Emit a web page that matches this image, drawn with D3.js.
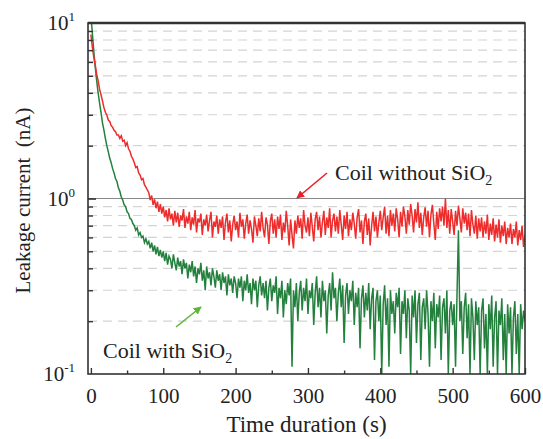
<!DOCTYPE html>
<html>
<head>
<meta charset="utf-8">
<script src="https://cdn.jsdelivr.net/npm/d3@7"></script>
<style>
  body { margin: 0; background: #fff; }
  svg text { font-family: "Liberation Serif", "Times New Roman", serif; fill: #222; }
</style>
</head>
<body>
<svg width="543" height="439" font-family="Liberation Serif, serif"></svg>
<script>
// sampling: one reading every 2 s from 0 to 600 s
var startTime = 0;
var timeStep = 2;

// Coil without SiO2 (nA)
var withoutSiO2 = [
  8.6, 7.3, 6.4, 5.8, 5.1, 4.7, 4.2, 3.9, 3.6, 3.3,
  3.1, 3.0, 2.8, 2.75, 2.6, 2.55, 2.45, 2.4, 2.3, 2.3,
  2.2, 2.28, 2.12, 2.15, 2.0, 2.08, 1.92, 1.86, 1.74, 1.68,
  1.6, 1.5, 1.52, 1.4, 1.36, 1.28, 1.3, 1.2, 1.16, 1.12,
  1.08, 0.98, 1.04, 0.92, 0.99, 0.88, 0.96, 0.84, 0.93, 0.82,
  0.9, 0.78, 0.86, 0.74, 0.88, 0.76, 0.82, 0.7, 0.85, 0.73,
  0.83, 0.69, 0.8, 0.75, 0.87, 0.68, 0.79, 0.72, 0.84, 0.66,
  0.78, 0.71, 0.86, 0.64, 0.77, 0.73, 0.82, 0.62, 0.76, 0.7,
  0.81, 0.65, 0.75, 0.84, 0.6, 0.74, 0.69, 0.8, 0.63, 0.76,
  0.68, 0.79, 0.58, 0.73, 0.82, 0.64, 0.75, 0.57, 0.71, 0.8,
  0.66, 0.74, 0.6, 0.83, 0.69, 0.76, 0.59, 0.72, 0.81, 0.63,
  0.75, 0.67, 0.56, 0.79, 0.7, 0.61, 0.77, 0.65, 0.84, 0.68,
  0.6, 0.78, 0.71, 0.55, 0.74, 0.82, 0.63, 0.76, 0.6, 0.79,
  0.67, 0.81, 0.58, 0.73, 0.64, 0.85, 0.7, 0.54, 0.76, 0.62,
  0.52, 0.75, 0.63, 0.8, 0.68, 0.77, 0.59, 0.86, 0.7, 0.64,
  0.78, 0.61, 0.83, 0.69, 0.57, 0.76, 0.84, 0.66, 0.79, 0.6,
  0.73, 0.85, 0.62, 0.78, 0.68, 0.88, 0.6, 0.75, 0.82, 0.65,
  0.79, 0.63, 0.86, 0.71, 0.58, 0.8, 0.67, 0.84, 0.61, 0.76,
  0.66, 0.83, 0.72, 0.59, 0.78, 0.87, 0.64, 0.75, 0.55, 0.74,
  0.82, 0.62, 0.77, 0.54, 0.7, 0.84, 0.65, 0.79, 0.6, 0.73,
  0.85, 0.66, 0.78, 0.9, 0.63, 0.8, 0.61, 0.86, 0.7, 0.82,
  0.65, 0.88, 0.76, 0.6, 0.84, 0.69, 0.9, 0.79, 0.63, 0.86,
  0.71, 0.93, 0.8, 0.64, 0.87, 0.73, 0.95, 0.68, 0.83, 0.62,
  0.78, 0.89, 0.69, 0.85, 0.6, 0.81, 0.92, 0.72, 0.58, 0.84,
  0.67, 0.88, 0.74, 0.9, 0.7, 1.0, 0.68, 0.86, 0.63, 0.87,
  0.74, 0.62, 0.85, 0.7, 0.91, 0.77, 0.64, 0.88, 0.72, 0.83,
  0.66, 0.82, 0.61, 0.86, 0.71, 0.63, 0.8, 0.59, 0.77, 0.65,
  0.78, 0.6, 0.74, 0.63, 0.81, 0.58, 0.72, 0.62, 0.77, 0.57,
  0.71, 0.6, 0.76, 0.56, 0.7, 0.61, 0.74, 0.55, 0.68, 0.6,
  0.72, 0.55, 0.67, 0.6, 0.74, 0.54, 0.66, 0.58, 0.7, 0.53,
  0.62
];

// Coil with SiO2 (nA)
var withSiO2 = [
  11, 8.8, 6.9, 5.6, 4.7, 4.0, 3.5, 3.1, 2.7, 2.45,
  2.2, 2.0, 1.85, 1.7, 1.6, 1.48, 1.4, 1.3, 1.25, 1.15,
  1.1, 1.02, 0.98, 0.92, 0.9, 0.84, 0.82, 0.77, 0.76, 0.72,
  0.7, 0.66, 0.68, 0.62, 0.64, 0.6, 0.61, 0.56, 0.59, 0.55,
  0.57, 0.52, 0.56, 0.5, 0.54, 0.48, 0.53, 0.47, 0.51, 0.46,
  0.5, 0.44, 0.49, 0.42, 0.47, 0.45, 0.4, 0.48, 0.43, 0.39,
  0.46, 0.41, 0.44, 0.37, 0.45, 0.4, 0.43, 0.35, 0.42, 0.38,
  0.44, 0.36, 0.41, 0.33, 0.4, 0.37, 0.43, 0.34, 0.39, 0.3,
  0.41, 0.35, 0.38, 0.32, 0.4, 0.36, 0.31, 0.39, 0.34, 0.37,
  0.3, 0.38, 0.33, 0.36, 0.28, 0.37, 0.32, 0.35, 0.29, 0.36,
  0.33, 0.27, 0.35, 0.31, 0.36, 0.26, 0.34, 0.3, 0.37, 0.29,
  0.33, 0.25, 0.35, 0.3, 0.34, 0.24, 0.32, 0.36, 0.28, 0.33,
  0.27, 0.34, 0.23, 0.31, 0.35, 0.26, 0.32, 0.29, 0.36, 0.22,
  0.31, 0.27, 0.34, 0.21, 0.3, 0.25, 0.33, 0.28, 0.35, 0.11,
  0.3, 0.24, 0.33, 0.2, 0.29, 0.34, 0.23, 0.31, 0.26, 0.35,
  0.22, 0.3, 0.27, 0.33, 0.19, 0.29, 0.36, 0.24, 0.31, 0.21,
  0.34, 0.26, 0.3, 0.17, 0.28, 0.33, 0.23, 0.38, 0.27, 0.31,
  0.2, 0.29, 0.35, 0.24, 0.32, 0.15, 0.28, 0.33, 0.22, 0.3,
  0.26, 0.34, 0.19, 0.29, 0.24, 0.31, 0.14, 0.27, 0.32, 0.21,
  0.29, 0.23, 0.33, 0.18, 0.27, 0.31, 0.12, 0.26, 0.3, 0.2,
  0.28, 0.1, 0.25, 0.32, 0.19, 0.27, 0.11, 0.3, 0.22, 0.26,
  0.17, 0.29, 0.24, 0.31, 0.13, 0.26, 0.22, 0.3, 0.16, 0.27,
  0.23, 0.1, 0.28, 0.21, 0.3, 0.15, 0.25, 0.29, 0.12, 0.24,
  0.27, 0.18, 0.3, 0.22, 0.11, 0.26, 0.2, 0.29, 0.14, 0.25,
  0.21, 0.28, 0.12, 0.24, 0.27, 0.17, 0.3, 0.1, 0.23, 0.26,
  0.19, 0.25, 0.11, 0.28, 0.66, 0.2, 0.26, 0.13, 0.24, 0.29,
  0.16, 0.25, 0.1, 0.27, 0.21, 0.12, 0.26, 0.19, 0.24, 0.1,
  0.23, 0.27, 0.14, 0.22, 0.1, 0.25, 0.18, 0.28, 0.11, 0.21,
  0.26, 0.1, 0.23, 0.19, 0.27, 0.12, 0.22, 0.1, 0.25, 0.17,
  0.24, 0.1, 0.21, 0.26, 0.13, 0.22, 0.1, 0.25, 0.18, 0.23,
  0.2
];

var xTicks = [0, 100, 200, 300, 400, 500, 600];
var xMinorTicks = [50, 150, 250, 350, 450, 550];
var yDecades = [0.1, 1, 10];
var yExponents = ["-1", "0", "1"];

var serif = '"Liberation Serif", "Times New Roman", serif';
var plotLeft = 88, plotRight = 525, plotTop = 23, plotBottom = 374;

var svg = d3.select('svg');

var scaleX = d3.scaleLinear().domain([-4, 600]).range([plotLeft, plotRight]);
var scaleY = d3.scaleLog().domain([0.1, 10]).range([plotBottom, plotTop]);

// minor values between decades
var minorVals = [];
[0.1, 1].forEach(function(d){
  for (var k = 2; k <= 9; k++) minorVals.push(+(d * k).toFixed(2));
});

// grid
svg.append('g').selectAll('line')
  .data(minorVals)
  .enter()
  .append('line')
  .attr('x1', plotLeft)
  .attr('x2', plotRight)
  .attr('y1', function(d){ return scaleY(d); })
  .attr('y2', function(d){ return scaleY(d); })
  .attr('stroke', '#d4d4d4')
  .attr('stroke-width', 1.2)
  .attr('stroke-dasharray', '9,6');

svg.append('line')
  .attr('x1', plotLeft).attr('x2', plotRight)
  .attr('y1', scaleY(1)).attr('y2', scaleY(1))
  .attr('stroke', '#8a8a8a')
  .attr('stroke-width', 1.2);

svg.append('clipPath').attr('id', 'plotClip')
  .append('rect')
  .attr('x', plotLeft).attr('y', plotTop)
  .attr('width', plotRight - plotLeft).attr('height', plotBottom - plotTop);

function toPoints(values) {
  return values.map(function(v, i){ return { t: startTime + i * timeStep, v: v }; });
}

var line = d3.line()
  .x(function(d){ return scaleX(d.t); })
  .y(function(d){ return scaleY(d.v); });

var plot = svg.append('g').attr('clip-path', 'url(#plotClip)');

plot.append('path')
  .datum(toPoints(withSiO2))
  .attr('fill', 'none')
  .attr('stroke', '#23803d')
  .attr('stroke-width', 1.5)
  .attr('d', line);

plot.append('path')
  .datum(toPoints(withoutSiO2))
  .attr('fill', 'none')
  .attr('stroke', '#ee2c2c')
  .attr('stroke-width', 1.5)
  .attr('d', line);

// frame
svg.append('rect')
  .attr('x', plotLeft).attr('y', plotTop)
  .attr('width', plotRight - plotLeft).attr('height', plotBottom - plotTop)
  .attr('fill', 'none')
  .attr('stroke', '#333')
  .attr('stroke-width', 1.6);
svg.append('line')
  .attr('x1', plotLeft).attr('x2', plotRight)
  .attr('y1', plotTop).attr('y2', plotTop)
  .attr('stroke', '#333').attr('stroke-width', 2.4);

// x axis (ticks inward)
var xAxis = svg.append('g')
  .attr('transform', 'translate(0,' + plotBottom + ')')
  .call(d3.axisBottom(scaleX).tickValues(xTicks).tickSizeInner(-6).tickSizeOuter(0).tickPadding(14));
xAxis.attr('font-family', serif).attr('font-size', 21);
xAxis.select('.domain').remove();
xAxis.selectAll('line').attr('stroke', '#333').attr('stroke-width', 1.4);
xAxis.selectAll('text').attr('fill', '#222');

var xMinor = svg.append('g')
  .attr('transform', 'translate(0,' + plotBottom + ')')
  .call(d3.axisBottom(scaleX).tickValues(xMinorTicks).tickSizeInner(-3.5).tickSizeOuter(0).tickFormat(''));
xMinor.select('.domain').remove();
xMinor.selectAll('line').attr('stroke', '#333').attr('stroke-width', 1.4);

// y axis ticks (inward)
var yMajor = svg.append('g')
  .attr('transform', 'translate(' + plotLeft + ',0)')
  .call(d3.axisLeft(scaleY).tickValues([1]).tickSizeInner(-8).tickSizeOuter(0).tickFormat(''));
yMajor.select('.domain').remove();
yMajor.selectAll('line').attr('stroke', '#333').attr('stroke-width', 1.6);

var yMinor = svg.append('g')
  .attr('transform', 'translate(' + plotLeft + ',0)')
  .call(d3.axisLeft(scaleY).tickValues(minorVals).tickSizeInner(-5).tickSizeOuter(0).tickFormat(''));
yMinor.select('.domain').remove();
yMinor.selectAll('line').attr('stroke', '#333').attr('stroke-width', 1.4);

// y tick labels 10^n
var yLab = svg.append('g').selectAll('text')
  .data(yDecades)
  .enter()
  .append('text')
  .attr('x', 75)
  .attr('y', function(d){ return scaleY(d) + 7; })
  .attr('text-anchor', 'end')
  .attr('font-family', serif)
  .attr('font-size', 21);
yLab.append('tspan').text('10');
yLab.append('tspan')
  .attr('dy', -9)
  .attr('font-size', 13)
  .text(function(d, i){ return yExponents[i]; });

// axis titles
svg.append('text')
  .attr('x', (plotLeft + plotRight) / 2)
  .attr('y', 432)
  .attr('text-anchor', 'middle')
  .attr('font-family', serif)
  .attr('font-size', 23)
  .text('Time duration (s)');

svg.append('text')
  .attr('transform', 'translate(30,' + ((plotTop + plotBottom) / 2 + 2) + ') rotate(-90)')
  .attr('text-anchor', 'middle')
  .attr('font-family', serif)
  .attr('font-size', 21)
  .attr('xml:space', 'preserve')
  .text('Leakage current  (nA)');

// annotations
var defs = svg.append('defs');
function marker(id, color) {
  defs.append('marker')
    .attr('id', id)
    .attr('viewBox', '0 0 10 10')
    .attr('refX', 9).attr('refY', 5)
    .attr('markerWidth', 5).attr('markerHeight', 5)
    .attr('orient', 'auto')
    .append('path')
    .attr('d', 'M0,0 L10,5 L0,10 z')
    .attr('fill', color);
}
marker('arrowRed', '#e8202a');
marker('arrowGreen', '#5cb836');

svg.append('line')
  .attr('x1', 327).attr('y1', 173)
  .attr('x2', 297).attr('y2', 198)
  .attr('stroke', '#e8202a').attr('stroke-width', 1.6)
  .attr('marker-end', 'url(#arrowRed)');

svg.append('line')
  .attr('x1', 176).attr('y1', 327)
  .attr('x2', 201).attr('y2', 307)
  .attr('stroke', '#5cb836').attr('stroke-width', 1.6)
  .attr('marker-end', 'url(#arrowGreen)');

var t1 = svg.append('text').attr('x', 335).attr('y', 180)
  .attr('font-family', serif).attr('font-size', 22);
t1.append('tspan').text('Coil without SiO');
t1.append('tspan').attr('dy', 5).attr('font-size', 14).text('2');

var t2 = svg.append('text').attr('x', 103).attr('y', 358)
  .attr('font-family', serif).attr('font-size', 22);
t2.append('tspan').text('Coil with SiO');
t2.append('tspan').attr('dy', 5).attr('font-size', 14).text('2');
</script>
</body>
</html>
